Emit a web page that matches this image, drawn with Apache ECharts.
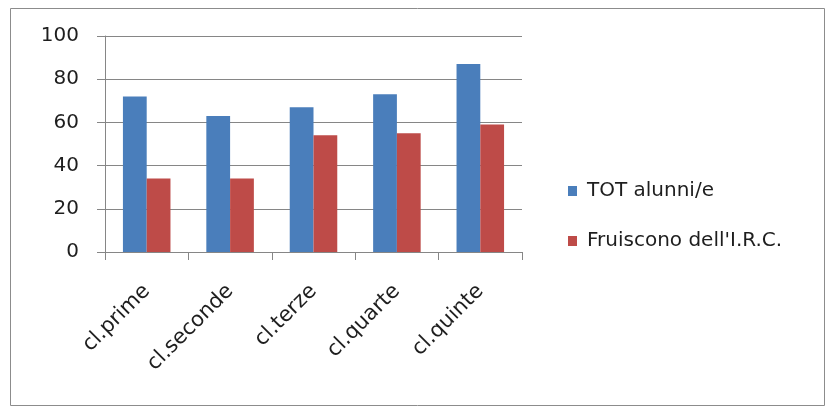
<!DOCTYPE html>
<html>
<head>
<meta charset="utf-8">
<script src="https://cdn.jsdelivr.net/npm/echarts@6/dist/echarts.min.js"></script>
<style>
html,body{margin:0;padding:0;background:#fff;}
#chart{width:827px;height:408px;}
</style>
</head>
<body>
<div id="chart"></div>
<script>
var categories = ['cl.prime', 'cl.seconde', 'cl.terze', 'cl.quarte', 'cl.quinte'];
var totAlunni = [72, 63, 67, 73, 87];
var fruiscono = [34, 34, 54, 55, 59];
var seriesNames = ['TOT alunni/e', "Fruiscono dell'I.R.C."];

var FONT = 'DejaVu Sans';
var chart = echarts.init(document.getElementById('chart'), null, {renderer: 'canvas'});
chart.setOption({
  animation: false,
  backgroundColor: '#fff',
  textStyle: {fontFamily: FONT},
  graphic: [{
    type: 'rect',
    shape: {x: 10.5, y: 8.5, width: 814, height: 397},
    style: {fill: 'none', stroke: '#8c8c8c', lineWidth: 1},
    silent: true, z: -1
  }],
  grid: {left: 105, right: 305, top: 36, bottom: 156},
  legend: {
    orient: 'vertical',
    left: 563,
    top: 176,
    itemWidth: 9,
    itemHeight: 10,
    itemGap: 30,
    icon: 'rect',
    data: seriesNames,
    textStyle: {fontFamily: FONT, fontSize: 20, color: '#1e1e1e', lineHeight: 20, padding: [0, 0, 0, 5]}
  },
  xAxis: {
    type: 'category',
    data: categories,
    axisLine: {lineStyle: {color: '#868686', width: 1}},
    axisTick: {show: true, length: 8, inside: false, lineStyle: {color: '#868686'}},
    axisLabel: {rotate: 45, margin: 36, fontFamily: FONT, fontSize: 21, color: '#1e1e1e', interval: 0},
    splitLine: {show: false}
  },
  yAxis: {
    type: 'value',
    min: 0, max: 100, interval: 20,
    axisLine: {show: true, lineStyle: {color: '#868686', width: 1}},
    axisTick: {show: true, length: 8, inside: false, lineStyle: {color: '#868686'}},
    axisLabel: {margin: 26, fontFamily: FONT, fontSize: 20, color: '#1e1e1e'},
    splitLine: {show: true, lineStyle: {color: '#868686', width: 1}}
  },
  series: [
    {name: seriesNames[0], type: 'bar', data: totAlunni, barGap: '0%', barCategoryGap: '43%',
     itemStyle: {color: '#4a7ebb'}},
    {name: seriesNames[1], type: 'bar', data: fruiscono, barGap: '0%', barCategoryGap: '43%',
     itemStyle: {color: '#be4b48'}}
  ]
});
</script>
</body>
</html>
